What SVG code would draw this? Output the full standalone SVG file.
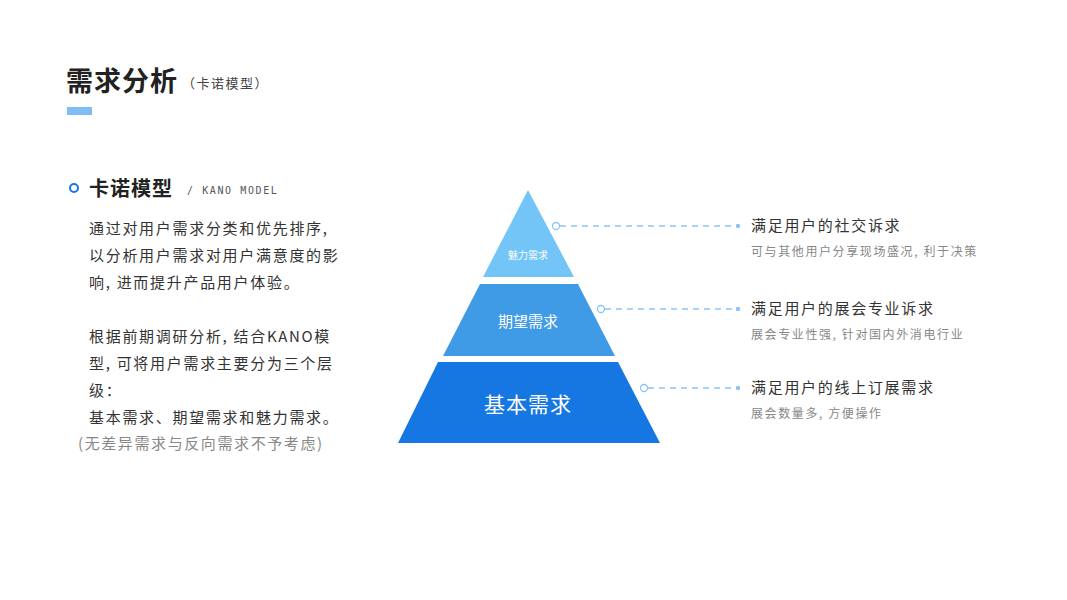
<svg xmlns="http://www.w3.org/2000/svg" width="1067" height="600" viewBox="0 0 1067 600">
<defs>
<style>
text{font-family:"Noto Sans CJK SC","Noto Sans",sans-serif;}
.title{font-size:27px;font-weight:bold;fill:#222;letter-spacing:1px;}
.sub{font-size:13px;fill:#444;letter-spacing:1.5px;}
.h2{font-size:20px;font-weight:bold;fill:#222;letter-spacing:1px;}
.en{font-family:"DejaVu Sans Mono","Liberation Mono",monospace;font-size:10px;fill:#555;letter-spacing:1.6px;}
.p{font-size:15px;fill:#333;letter-spacing:1.7px;}
.pg{font-size:15px;fill:#888;letter-spacing:1.6px;}
.rt{font-size:15px;fill:#333;letter-spacing:1.7px;}
.rs{font-size:12px;fill:#888;letter-spacing:1.6px;}
.lbl{fill:#fff;text-anchor:middle;}
.dash{stroke:#8cc4f7;stroke-width:1.3;stroke-dasharray:6 5;fill:none;}
.ring{stroke:#8cc4f7;stroke-width:1.3;fill:#fff;}
.dot{fill:#8cc4f7;}
</style>
</defs>
<rect width="1067" height="600" fill="#fff"/>
<g id="header">
<text class="title" x="66" y="91">需求分析</text>
<text class="sub" x="182" y="88">（卡诺模型）</text>
<rect x="67" y="107" width="25" height="8" fill="#7fbdf7"/>
</g>
<g id="intro">
<circle cx="74" cy="188" r="4" fill="none" stroke="#1a73e8" stroke-width="2"/>
<text class="h2" x="89" y="196">卡诺模型</text>
<text class="en" x="187" y="194">/ KANO MODEL</text>
<text class="p" x="89" y="234">通过对用户需求分类和优先排序,</text>
<text class="p" x="89" y="261">以分析用户需求对用户满意度的影</text>
<text class="p" x="89" y="288">响, 进而提升产品用户体验。</text>
<text class="p" x="89" y="342">根据前期调研分析, 结合KANO模</text>
<text class="p" x="89" y="369">型, 可将用户需求主要分为三个层</text>
<text class="p" x="89" y="396">级：</text>
<text class="p" x="89" y="423">基本需求、期望需求和魅力需求。</text>
<text class="pg" x="78" y="449">(无差异需求与反向需求不予考虑)</text>
</g>
<g id="level-top">
<polygon points="528,190 574,277 483,277" fill="#73c5f8"/>
<text class="lbl" x="528" y="259" font-size="10">魅力需求</text>
</g>
<g id="level-mid">
<polygon points="480,284 578,284 615,356 443,356" fill="#3f9be6"/>
<text class="lbl" x="528" y="327" font-size="15">期望需求</text>
</g>
<g id="level-base">
<polygon points="438,362 618,362 660,443 398,443" fill="#1677e3"/>
<text class="lbl" x="528" y="412" font-size="21" letter-spacing="1">基本需求</text>
</g>
<g id="connectors">
<line class="dash" x1="560" y1="226" x2="736" y2="226"/>
<circle class="ring" cx="556" cy="226" r="3.5"/>
<circle class="dot" cx="738" cy="226" r="2.2"/>
<line class="dash" x1="605" y1="309" x2="736" y2="309"/>
<circle class="ring" cx="601" cy="309" r="3.5"/>
<circle class="dot" cx="738" cy="309" r="2.2"/>
<line class="dash" x1="648" y1="388" x2="736" y2="388"/>
<circle class="ring" cx="644" cy="388" r="3.5"/>
<circle class="dot" cx="738" cy="388" r="2.2"/>
</g>
<g id="note-top">
<text class="rt" x="751" y="231">满足用户的社交诉求</text>
<text class="rs" x="751" y="256">可与其他用户分享现场盛况, 利于决策</text>
</g>
<g id="note-mid">
<text class="rt" x="751" y="314">满足用户的展会专业诉求</text>
<text class="rs" x="751" y="339">展会专业性强, 针对国内外消电行业</text>
</g>
<g id="note-base">
<text class="rt" x="751" y="393">满足用户的线上订展需求</text>
<text class="rs" x="751" y="418">展会数量多, 方便操作</text>
</g>
</svg>
